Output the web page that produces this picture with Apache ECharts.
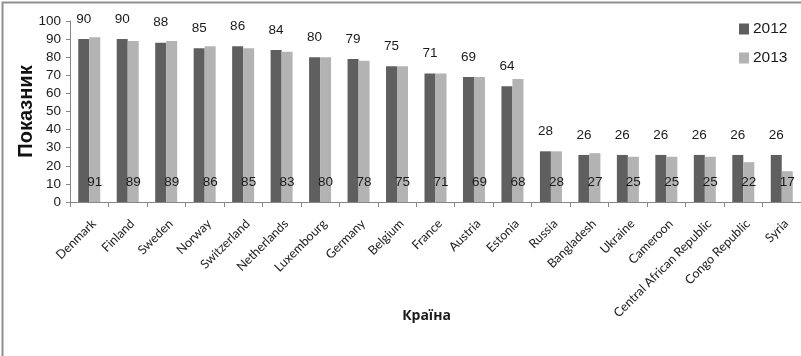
<!DOCTYPE html>
<html>
<head>
<meta charset="utf-8">
<script src="https://cdn.jsdelivr.net/npm/echarts@6/dist/echarts.min.js"></script>
<style>
  html, body { margin: 0; padding: 0; background: #ffffff; }
  #chart { width: 801px; height: 356px; }
</style>
</head>
<body>
<div id="chart"></div>
<script>
// Countries along the x axis
const countries = ['Denmark', 'Finland', 'Sweden', 'Norway', 'Switzerland', 'Netherlands',
  'Luxembourg', 'Germany', 'Belgium', 'France', 'Austria', 'Estonia', 'Russia',
  'Bangladesh', 'Ukraine', 'Cameroon', 'Central African Republic', 'Congo Republic', 'Syria'];

// Index values per year
const values2012 = [90, 90, 88, 85, 86, 84, 80, 79, 75, 71, 69, 64, 28, 26, 26, 26, 26, 26, 26];
const values2013 = [91, 89, 89, 86, 85, 83, 80, 78, 75, 71, 69, 68, 28, 27, 25, 25, 25, 22, 17];

const seriesNames = ['2012', '2013'];

const numFont = '"Liberation Sans", Arial, sans-serif';
const catFont = 'Lato, "Open Sans", sans-serif';
const axisGray = '#868686';

const chart = echarts.init(document.getElementById('chart'), null, { renderer: 'canvas' });

chart.setOption({
  backgroundColor: '#ffffff',
  animation: false,
  graphic: [{
    type: 'polyline',
    shape: { points: [[2.5, 400], [2.5, 2.5], [900, 2.5]] },
    style: { stroke: '#8f8f8f', lineWidth: 2, fill: null },
    silent: true
  }],
  legend: {
    orient: 'vertical',
    left: 734,
    top: 16,
    itemWidth: 10,
    itemHeight: 11,
    itemGap: 13,
    icon: 'rect',
    textStyle: { fontFamily: numFont, fontSize: 15.5, color: '#1a1a1a', padding: [0, 0, 0, -1] },
    data: seriesNames
  },
  grid: { left: 70, right: -7, top: 21, bottom: 154, containLabel: false },
  xAxis: {
    type: 'category',
    data: countries,
    name: 'Країна',
    nameLocation: 'middle',
    nameGap: 107,
    nameMoveOverlap: false,
    nameTextStyle: {
      fontFamily: '"Open Sans", "Noto Sans", sans-serif',
      fontWeight: 'bold', fontSize: 14, color: '#1a1a1a',
      padding: [0, 18, 0, 0]
    },
    axisLine: { show: true, lineStyle: { color: axisGray, width: 1 } },
    axisTick: { show: true, length: 5, lineStyle: { color: axisGray } },
    axisLabel: {
      interval: 0,
      rotate: 45,
      margin: 15,
      verticalAlign: 'top',
      fontFamily: catFont,
      fontSize: 12.5,
      color: '#222222'
    },
    splitLine: { show: false }
  },
  yAxis: {
    type: 'value',
    min: 0,
    max: 100,
    interval: 10,
    name: 'Показник',
    nameLocation: 'middle',
    nameRotate: 90,
    nameGap: 34,
    nameMoveOverlap: false,
    nameTextStyle: {
      fontFamily: '"Liberation Sans", Arial, sans-serif',
      fontWeight: 'bold', fontSize: 20, color: '#111111'
    },
    axisLine: { show: true, lineStyle: { color: axisGray, width: 1 } },
    axisTick: { show: true, length: 4, lineStyle: { color: axisGray } },
    axisLabel: { margin: 9, fontFamily: numFont, fontSize: 13.5, color: '#1a1a1a' },
    splitLine: { show: false }
  },
  series: [
    {
      name: seriesNames[0],
      type: 'bar',
      data: values2012,
      barWidth: 11,
      barGap: '0%',
      itemStyle: { color: '#5f5f5f' },
      label: {
        show: true,
        position: 'top',
        distance: 13,
        fontFamily: numFont,
        fontSize: 13.5,
        color: '#1a1a1a'
      }
    },
    {
      name: seriesNames[1],
      type: 'bar',
      data: values2013,
      barWidth: 11,
      barGap: '0%',
      itemStyle: { color: '#b3b3b3' },
      label: {
        show: true,
        position: 'insideBottom',
        distance: 12.5,
        fontFamily: numFont,
        fontSize: 13.5,
        color: '#1a1a1a'
      }
    }
  ]
});
</script>
</body>
</html>
